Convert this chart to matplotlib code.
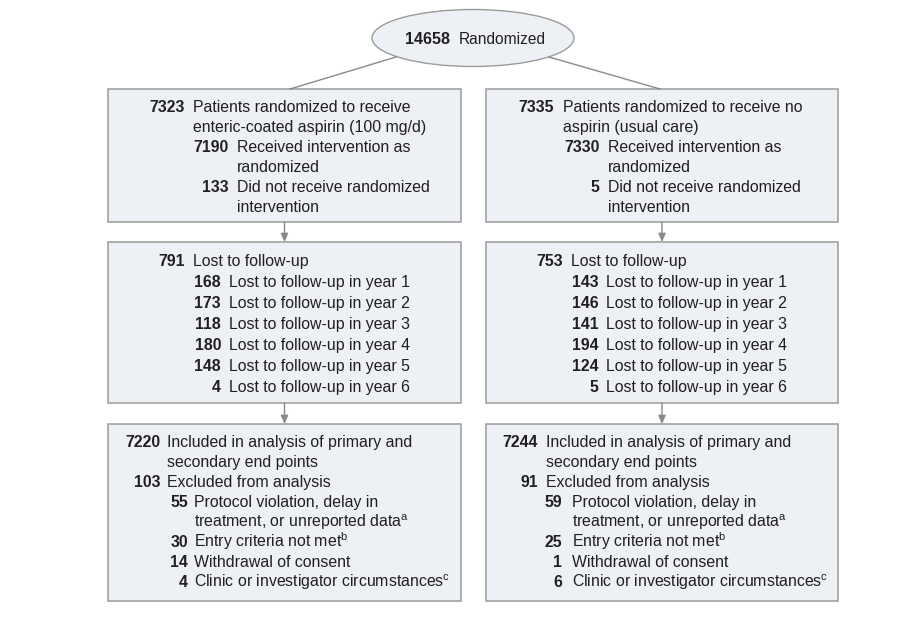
import matplotlib
matplotlib.use("Agg")
import matplotlib.pyplot as plt
from matplotlib.patches import Ellipse, Rectangle
from matplotlib import font_manager

# narrow sans is closest to the journal font, fall back if missing
FONT = 'Liberation Sans Narrow'
try:
    font_manager.findfont(FONT, fallback_to_default=False)
except ValueError:
    FONT = 'Liberation Sans'
plt.rcParams['font.family'] = [FONT, 'DejaVu Sans']
plt.rcParams['mathtext.fontset'] = 'custom'
plt.rcParams['mathtext.rm'] = FONT
plt.rcParams['mathtext.it'] = FONT
plt.rcParams['mathtext.bf'] = FONT + ':bold'

# ---- data ----
total_n = 14658
total_label = "Randomized"

aspirin_alloc = [
    (7323, ["Patients randomized to receive", "enteric-coated aspirin (100 mg/d)"], 0),
    (7190, ["Received intervention as", "randomized"], 1),
    (133, ["Did not receive randomized", "intervention"], 1),
]
care_alloc = [
    (7335, ["Patients randomized to receive no", "aspirin (usual care)"], 0),
    (7330, ["Received intervention as", "randomized"], 1),
    (5, ["Did not receive randomized", "intervention"], 1),
]

aspirin_lost_total = 791
aspirin_lost_by_year = [168, 173, 118, 180, 148, 4]
care_lost_total = 753
care_lost_by_year = [143, 146, 141, 194, 124, 5]

aspirin_analysis = [
    (7220, ["Included in analysis of primary and", "secondary end points"], 0),
    (103, ["Excluded from analysis"], 0),
    (55, ["Protocol violation, delay in", r"treatment, or unreported data$^{\mathrm{a}}$"], 1),
    (30, [r"Entry criteria not met$^{\mathrm{b}}$"], 1),
    (14, ["Withdrawal of consent"], 1),
    (4, [r"Clinic or investigator circumstances$^{\mathrm{c}}$"], 1),
]
care_analysis = [
    (7244, ["Included in analysis of primary and", "secondary end points"], 0),
    (91, ["Excluded from analysis"], 0),
    (59, ["Protocol violation, delay in", r"treatment, or unreported data$^{\mathrm{a}}$"], 1),
    (25, [r"Entry criteria not met$^{\mathrm{b}}$"], 1),
    (1, ["Withdrawal of consent"], 1),
    (6, [r"Clinic or investigator circumstances$^{\mathrm{c}}$"], 1),
]


def lost_entries(total, by_year):
    rows = [(total, ["Lost to follow-up"], 0)]
    for i, n in enumerate(by_year):
        rows.append((n, ["Lost to follow-up in year %d" % (i + 1)], 1))
    return rows


TXT = '#231f20'
FILL = '#edf0f4'
EDGE = '#9b9b9b'
LINE = '#8a8a8a'
FS = 11.4

fig = plt.figure(figsize=(9.21, 6.2), dpi=100)
ax = fig.add_axes([0, 0, 1, 1])
ax.set_xlim(0, 921)
ax.set_ylim(620, 0)
ax.axis('off')


def draw_box(x0, y0, x1, y1, entries, cols, first, step):
    ax.add_patch(Rectangle((x0, y0), x1 - x0, y1 - y0, facecolor=FILL,
                           edgecolor=EDGE, lw=1.1))
    y = y0 + first
    for num, lines, lev in entries:
        nx, tx = cols[lev]
        ax.text(x0 + nx, y, str(num), ha='right', va='baseline',
                fontsize=FS, fontweight='bold', color=TXT)
        for ln in lines:
            ax.text(x0 + tx, y, ln, ha='left', va='baseline',
                    fontsize=FS, color=TXT)
            y += step


def arrow(x, y0, y1):
    ax.annotate('', xy=(x, y1), xytext=(x, y0),
                arrowprops=dict(arrowstyle='-|>,head_length=0.5,head_width=0.22',
                                color=LINE, lw=1.0, shrinkA=0, shrinkB=0))


# top ellipse
ax.add_patch(Ellipse((473, 38), 202, 57, facecolor=FILL, edgecolor=EDGE, lw=1.0))
ax.text(450, 43.5, str(total_n), ha='right', va='baseline', fontsize=11.6,
        fontweight='bold', color=TXT)
ax.text(459, 43.5, total_label, ha='left', va='baseline', fontsize=11.2, color=TXT)

# connecting lines from ellipse to first boxes
ax.plot([396, 290], [57, 89], color=LINE, lw=1.0)
ax.plot([549, 660], [57, 89], color=LINE, lw=1.0)

LX0, LX1 = 108, 461
RX0, RX1 = 486, 838

draw_box(LX0, 89, LX1, 222, aspirin_alloc, {0: (77, 85), 1: (120.5, 129)}, 23.5, 19.8)
draw_box(RX0, 89, RX1, 222, care_alloc, {0: (68, 77), 1: (113.5, 122)}, 23.5, 19.8)

draw_box(LX0, 242, LX1, 403, lost_entries(aspirin_lost_total, aspirin_lost_by_year),
         {0: (77, 85), 1: (113, 121)}, 23.7, 21)
draw_box(RX0, 242, RX1, 403, lost_entries(care_lost_total, care_lost_by_year),
         {0: (77, 85), 1: (112.5, 120)}, 23.7, 21)

draw_box(LX0, 424, LX1, 601, aspirin_analysis, {0: (52, 59), 1: (80, 86)}, 22.7, 20.05)
draw_box(RX0, 424, RX1, 601, care_analysis, {0: (52, 60), 1: (76, 86)}, 22.7, 20.05)

for cx in [(LX0 + LX1) / 2, (RX0 + RX1) / 2]:
    arrow(cx, 222, 242)
    arrow(cx, 403, 424)

fig.savefig('out.png', dpi=100, facecolor='white')
